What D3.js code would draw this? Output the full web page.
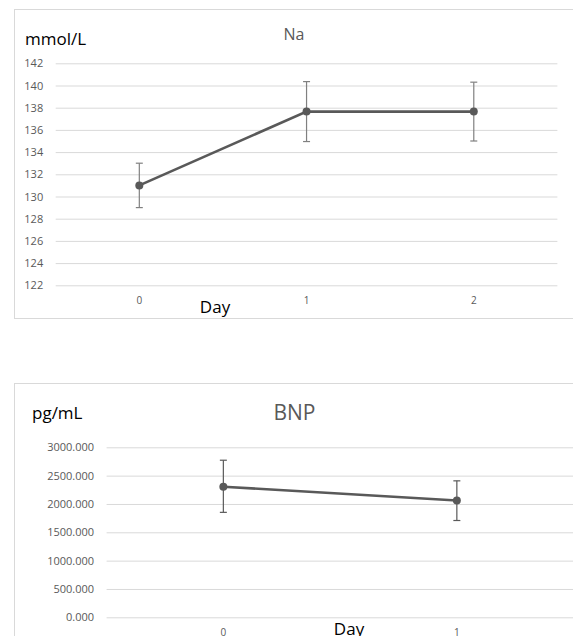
<!DOCTYPE html>
<html>
<head>
<meta charset="utf-8">
<script src="https://cdn.jsdelivr.net/npm/d3@7"></script>
<style>
  body { margin: 0; background: #fff; }
  svg { display: block; font-family: "Open Sans", sans-serif; }
</style>
</head>
<body>
<svg id="chart" width="573" height="636"></svg>
<script>
// data
const days = ["0", "1", "2"];
const naMean = [131.0, 137.65, 137.65];
const naUpper = [133.0, 140.35, 140.3];
const naLower = [129.0, 134.95, 135.0];
const naTicks = [122, 124, 126, 128, 130, 132, 134, 136, 138, 140, 142];

const bnpDays = ["0", "1"];
const bnpMean = [2305, 2062];
const bnpUpper = [2772, 2408];
const bnpLower = [1852, 1708];
const bnpTicks = [0, 500, 1000, 1500, 2000, 2500, 3000];

const svg = d3.select("#chart");

function drawChart(o) {
    const g = svg.append("g");

    // outer frame (right side runs past the window)
    g.append("rect")
        .attr("x", o.frame[0] + 0.5).attr("y", o.frame[1] + 0.5)
        .attr("width", o.frame[2]).attr("height", o.frame[3])
        .attr("fill", "none").attr("stroke", "#d9d9d9");

    const x = d3.scaleBand().domain(o.cats).range([o.left, o.right]);
    const y = d3.scaleLinear().domain([o.ticks[0], o.ticks[o.ticks.length - 1]]).range([o.bottom, o.top]);

    // grid + y labels
    const ya = g.append("g")
        .attr("transform", `translate(${o.left},0)`)
        .call(d3.axisLeft(y).tickValues(o.ticks).tickSize(-(o.right - o.left)).tickPadding(12.5).tickFormat(o.fmt));
    ya.select(".domain").remove();
    ya.selectAll("line").attr("stroke", "#d9d9d9").attr("stroke-width", 1);
    ya.selectAll("text").attr("fill", "#595959").style("font-size", "11px").style("font-family", "'Open Sans', sans-serif");

    // x labels
    const xa = g.append("g")
        .attr("transform", `translate(0,${o.bottom})`)
        .call(d3.axisBottom(x).tickSize(0).tickPadding(12));
    xa.select(".domain").remove();
    xa.selectAll("text").attr("fill", "#595959").style("font-size", "10px").style("font-family", "'Open Sans', sans-serif");

    const cx = d => x(d) + x.bandwidth() / 2;

    // error bars
    const eb = g.append("g").attr("stroke", o.errColor).attr("stroke-width", 1.2).attr("fill", "none");
    o.cats.forEach((c, i) => {
        eb.append("line").attr("x1", cx(c)).attr("x2", cx(c)).attr("y1", y(o.upper[i])).attr("y2", y(o.lower[i]));
        eb.append("line").attr("x1", cx(c) - 3.5).attr("x2", cx(c) + 3.5).attr("y1", y(o.upper[i])).attr("y2", y(o.upper[i]));
        eb.append("line").attr("x1", cx(c) - 3.5).attr("x2", cx(c) + 3.5).attr("y1", y(o.lower[i])).attr("y2", y(o.lower[i]));
    });

    // line + markers
    const line = d3.line().x((d, i) => cx(o.cats[i])).y(d => y(d));
    g.append("path").datum(o.mean)
        .attr("d", line).attr("fill", "none")
        .attr("stroke", "#595959").attr("stroke-width", 2.6);
    g.selectAll(".dot").data(o.mean).enter().append("circle")
        .attr("cx", (d, i) => cx(o.cats[i])).attr("cy", d => y(d))
        .attr("r", 4).attr("fill", "#595959");

    // texts
    g.append("text").attr("x", o.titlePos[0]).attr("y", o.titlePos[1])
        .attr("text-anchor", "middle").attr("fill", "#595959")
        .style("font-size", o.titleSize + "px").text(o.title);
    g.append("text").attr("x", o.unitPos[0]).attr("y", o.unitPos[1])
        .attr("fill", "#000").style("font-size", "17px").text(o.unit);
    g.append("text").attr("x", o.dayPos[0]).attr("y", o.dayPos[1])
        .attr("text-anchor", "middle").attr("fill", "#000").style("font-size", "17px").text("Day");
}

drawChart({
    frame: [14, 9, 600, 309],
    left: 55.7, right: 557.4, top: 63.3, bottom: 285.3,
    cats: days, mean: naMean, upper: naUpper, lower: naLower,
    ticks: naTicks, fmt: d3.format("d"),
    errColor: "#808080",
    title: "Na", titleSize: 16, titlePos: [294, 40],
    unit: "mmol/L", unitPos: [25, 45],
    dayPos: [215, 313]
});

drawChart({
    frame: [14, 383, 600, 300],
    left: 106.6, right: 573.6, top: 447.3, bottom: 617.3,
    cats: bnpDays, mean: bnpMean, upper: bnpUpper, lower: bnpLower,
    ticks: bnpTicks, fmt: d3.format(".3f"),
    errColor: "#595959",
    title: "BNP", titleSize: 21, titlePos: [294.5, 420],
    unit: "pg/mL", unitPos: [32, 419],
    dayPos: [349, 635]
});
</script>
</body>
</html>
